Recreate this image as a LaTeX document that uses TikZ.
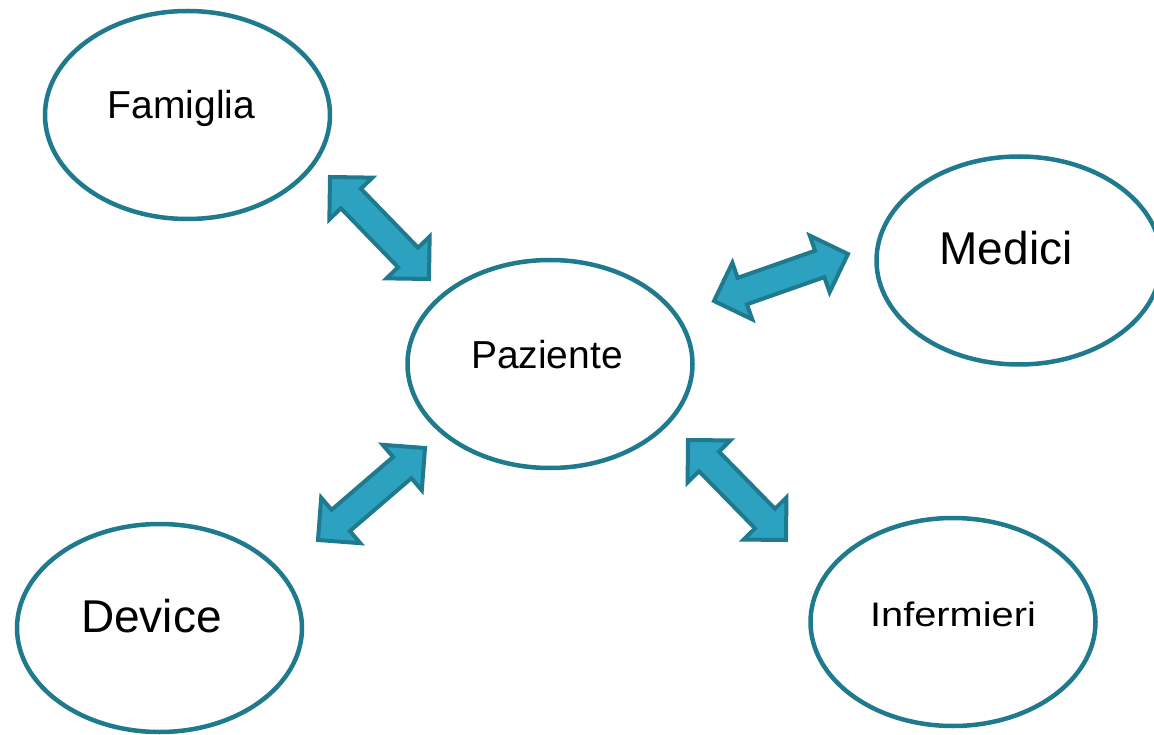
\documentclass[tikz,border=0pt]{standalone}
\usepackage{fontspec}
\setmainfont{Liberation Sans}
\usepackage{tikz}
\usetikzlibrary{calc}
\usetikzlibrary{shapes.geometric}

\definecolor{rim}{HTML}{1F7A8E}
\definecolor{flow}{HTML}{2CA2C0}

\tikzset{
  actor/.style={ellipse,draw=rim,line width=4.5pt,fill=white,minimum width=285pt,minimum height=208pt,inner sep=0pt,text height=24pt,text depth=16pt},
  small/.style={font=\fontsize{39}{44}\selectfont},
  large/.style={font=\fontsize{46}{52}\selectfont},
  flowarrow/.style={draw=rim,fill=flow,line width=4pt,line join=miter}
}

% text a little left of the ellipse centre
\newcommand{\leftof}[2]{#2\hspace*{#1}}

% double block arrow between two named points
\newcommand{\dblarrow}[2]{%
\draw[flowarrow] (#1)
  -- ($(#1)!30pt!(#2)!30pt!90:(#2)$)
  -- ($(#1)!30pt!(#2)!14pt!90:(#2)$)
  -- ($(#2)!30pt!(#1)!14pt!-90:(#1)$)
  -- ($(#2)!30pt!(#1)!30pt!-90:(#1)$)
  -- (#2)
  -- ($(#2)!30pt!(#1)!30pt!90:(#1)$)
  -- ($(#2)!30pt!(#1)!14pt!90:(#1)$)
  -- ($(#1)!30pt!(#2)!14pt!-90:(#2)$)
  -- ($(#1)!30pt!(#2)!30pt!-90:(#2)$)
  -- cycle;}

\begin{document}
\begin{tikzpicture}[x=1pt,y=-1pt]
\useasboundingbox (0,0) rectangle (1154,735);
\clip (0,0) rectangle (1154,735);

\node[actor,small] (fam) at (187.5,115) {\leftof{12pt}{Famiglia}};
\node[actor,small] (paz) at (550,364) {\leftof{6pt}{Paziente}};
\node[actor,large] (med) at (1019,260.5) {\leftof{26pt}{Medici}};
\node[actor,large] (dev) at (159.5,628) {\leftof{16pt}{Device}};
\node[actor,font=\fontsize{34}{40}\selectfont] (inf) at (953,622) {\scalebox{1.17}[1]{Infermieri}};

\coordinate (fam tip) at (330,177);
\coordinate (fam end) at (429,279);
\coordinate (med tip) at (848,254);
\coordinate (med end) at (714,301);
\coordinate (dev tip) at (318,540);
\coordinate (dev end) at (425,448);
\coordinate (inf tip) at (786,540);
\coordinate (inf end) at (688,440);

\dblarrow{fam tip}{fam end}
\dblarrow{med tip}{med end}
\dblarrow{dev tip}{dev end}
\dblarrow{inf tip}{inf end}
\end{tikzpicture}
\end{document}
